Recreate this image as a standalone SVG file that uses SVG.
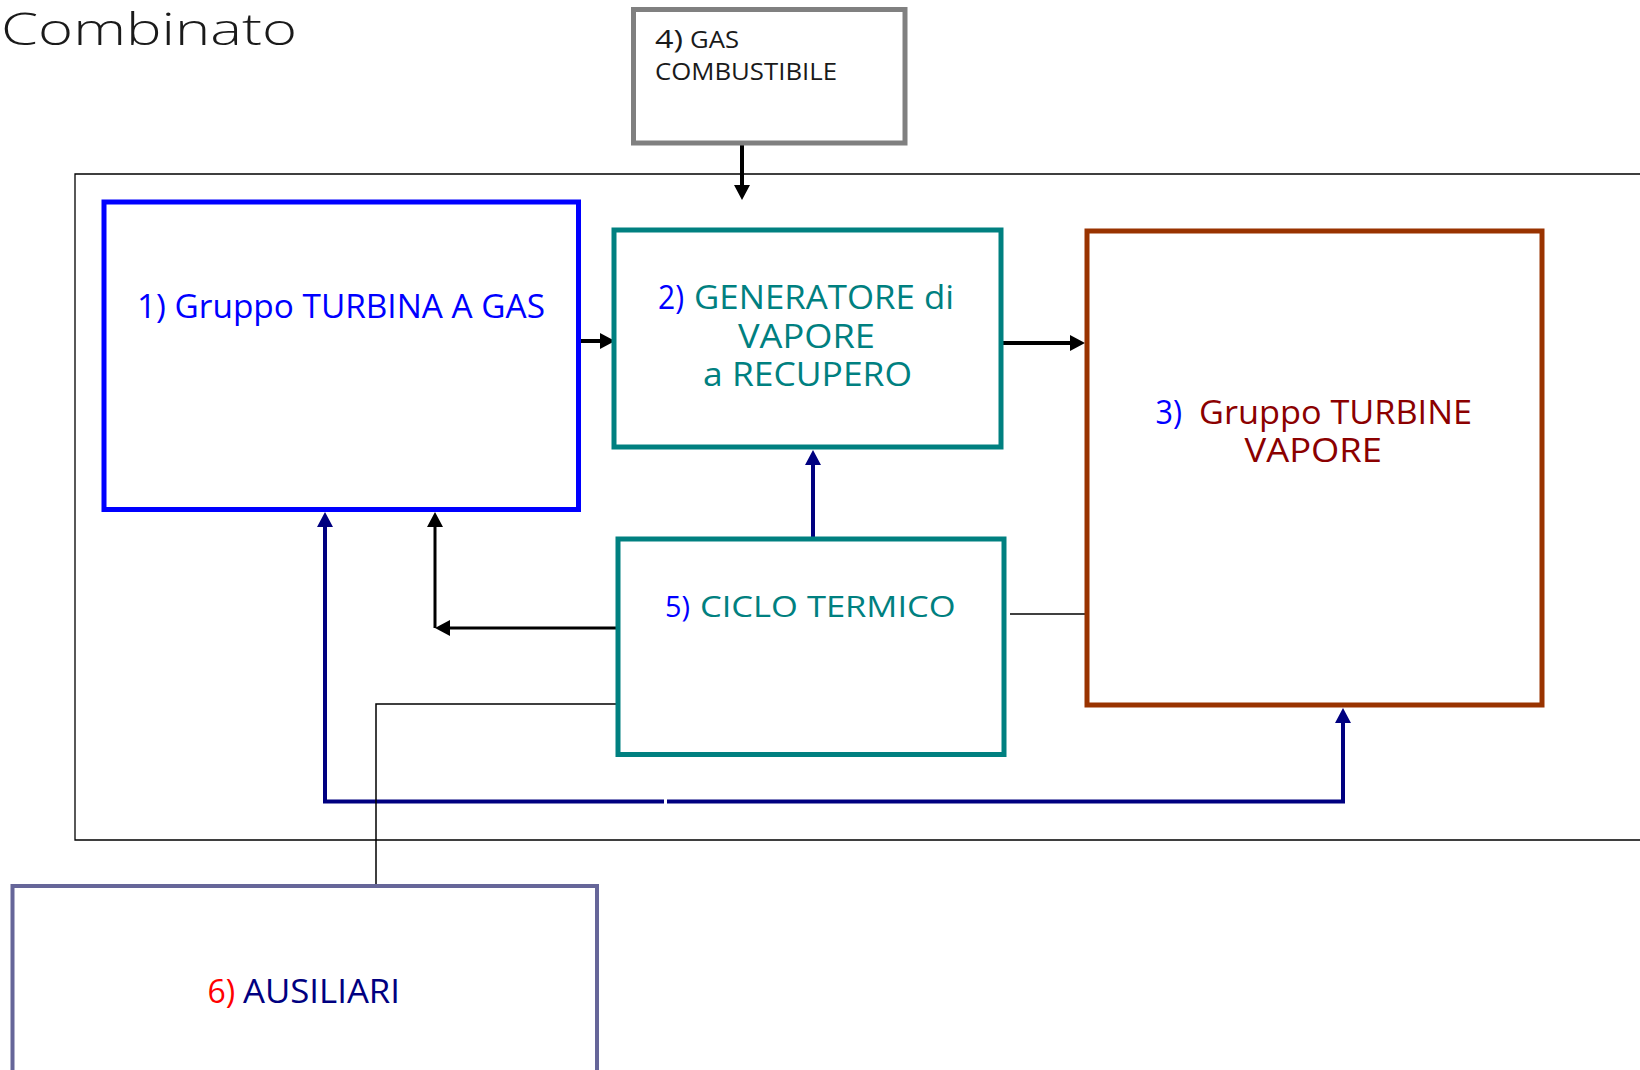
<svg xmlns="http://www.w3.org/2000/svg" width="1640" height="1070" viewBox="0 0 1640 1070">
  <style>
    .lbl { font-family: "Open Sans", "Liberation Sans", sans-serif; font-size: 32px; }
    .sm { font-size: 23px; }
    .md { font-size: 26px; }
    .s30 { font-size: 30px; }
    .box { fill: #ffffff; }
    .blue { fill: #0000ff; }
    .teal { fill: #008080; }
    .maroon { fill: #8b0000; }
    .navy { fill: #000080; }
    .red { fill: #ff0000; }
    .dark { fill: #1a1a1a; }
    .blk { fill: none; stroke: #000000; stroke-width: 4; }
    .nav { fill: none; stroke: #000080; stroke-width: 4; }
    .thin { fill: none; stroke: #000000; stroke-width: 1.5; }
  </style>
  <defs>
    <marker id="ahBlack" markerUnits="userSpaceOnUse" viewBox="0 0 15 16" markerWidth="15" markerHeight="16" refX="3" refY="8" orient="auto">
      <path d="M0,0 L15,8 L0,16 z" fill="#000000"/>
    </marker>
    <marker id="ahNavy" markerUnits="userSpaceOnUse" viewBox="0 0 15 16" markerWidth="15" markerHeight="16" refX="3" refY="8" orient="auto">
      <path d="M0,0 L15,8 L0,16 z" fill="#000080"/>
    </marker>
  </defs>
  <rect width="1640" height="1070" fill="#ffffff"/>

  <text x="1" y="45" font-family="Open Sans, Liberation Sans, sans-serif" font-weight="300" font-size="45" fill="#1a1a1a" textLength="296" lengthAdjust="spacingAndGlyphs">Combinato</text>

  <g id="container">
    <path d="M1650,174 H75 V840 H1650" fill="none" stroke="#000000" stroke-width="1.3"/>
  </g>

  <g id="connectors">
    <path class="blk" d="M578,341 H603" marker-end="url(#ahBlack)"/>
    <path class="blk" d="M1001,343 H1073" marker-end="url(#ahBlack)"/>
    <path class="blk" d="M742,145 V188" marker-end="url(#ahBlack)"/>
    <path class="nav" d="M813,537 V462" marker-end="url(#ahNavy)"/>
    <path class="blk" style="stroke-width:3" d="M616,628 H447" marker-end="url(#ahBlack)"/>
    <path class="blk" style="stroke-width:3" d="M435,628 V524" marker-end="url(#ahBlack)"/>
    <path class="nav" d="M664,801.5 H325 V524" marker-end="url(#ahNavy)"/>
    <path class="nav" d="M667,801.5 H1343 V720" marker-end="url(#ahNavy)"/>
    <path class="thin" d="M618,704 H376 V886"/>
    <path class="thin" d="M1010,614 H1087"/>
  </g>

  <g id="node4">
    <rect class="box" x="633.5" y="9.5" width="271.5" height="133.5" stroke="#808080" stroke-width="5"/>
    <text class="lbl md dark" x="655" y="48" textLength="28" lengthAdjust="spacingAndGlyphs">4)</text>
    <text class="lbl sm dark" x="690" y="48" textLength="49" lengthAdjust="spacingAndGlyphs">GAS</text>
    <text class="lbl sm dark" x="655" y="80" textLength="182" lengthAdjust="spacingAndGlyphs">COMBUSTIBILE</text>
  </g>

  <g id="node1">
    <rect class="box" x="104" y="202" width="474.5" height="307.5" stroke="#0000ff" stroke-width="5"/>
    <text class="lbl blue" x="137" y="318" textLength="408" lengthAdjust="spacingAndGlyphs">1) Gruppo TURBINA A GAS</text>
  </g>

  <g id="node2">
    <rect class="box" x="614" y="230" width="387" height="217" stroke="#008080" stroke-width="5"/>
    <text class="lbl blue" x="658" y="309" textLength="26" lengthAdjust="spacingAndGlyphs">2)</text>
    <text class="lbl teal" x="694" y="309" textLength="260" lengthAdjust="spacingAndGlyphs">GENERATORE di</text>
    <text class="lbl teal" x="738" y="348" textLength="137" lengthAdjust="spacingAndGlyphs">VAPORE</text>
    <text class="lbl teal" x="703" y="386" textLength="209" lengthAdjust="spacingAndGlyphs">a RECUPERO</text>
  </g>

  <g id="node3">
    <rect class="box" x="1087" y="231" width="455" height="474" stroke="#993300" stroke-width="5"/>
    <text class="lbl blue" x="1155.5" y="424" textLength="26.5" lengthAdjust="spacingAndGlyphs">3)</text>
    <text class="lbl maroon" x="1199" y="424" textLength="273" lengthAdjust="spacingAndGlyphs">Gruppo TURBINE</text>
    <text class="lbl maroon" x="1244.5" y="462" textLength="137.5" lengthAdjust="spacingAndGlyphs">VAPORE</text>
  </g>

  <g id="node5">
    <rect class="box" x="618" y="539" width="386" height="215.5" stroke="#008080" stroke-width="5"/>
    <text class="lbl s30 blue" x="665" y="617" textLength="25" lengthAdjust="spacingAndGlyphs">5)</text>
    <text class="lbl s30 teal" x="700" y="617" textLength="255.6" lengthAdjust="spacingAndGlyphs">CICLO TERMICO</text>
  </g>

  <g id="node6">
    <rect class="box" x="12.5" y="886" width="584.5" height="220" stroke="#666699" stroke-width="4"/>
    <text class="lbl red" x="207.6" y="1003" textLength="27.7" lengthAdjust="spacingAndGlyphs">6)</text>
    <text class="lbl navy" x="243" y="1003" textLength="157" lengthAdjust="spacingAndGlyphs">AUSILIARI</text>
  </g>
</svg>
